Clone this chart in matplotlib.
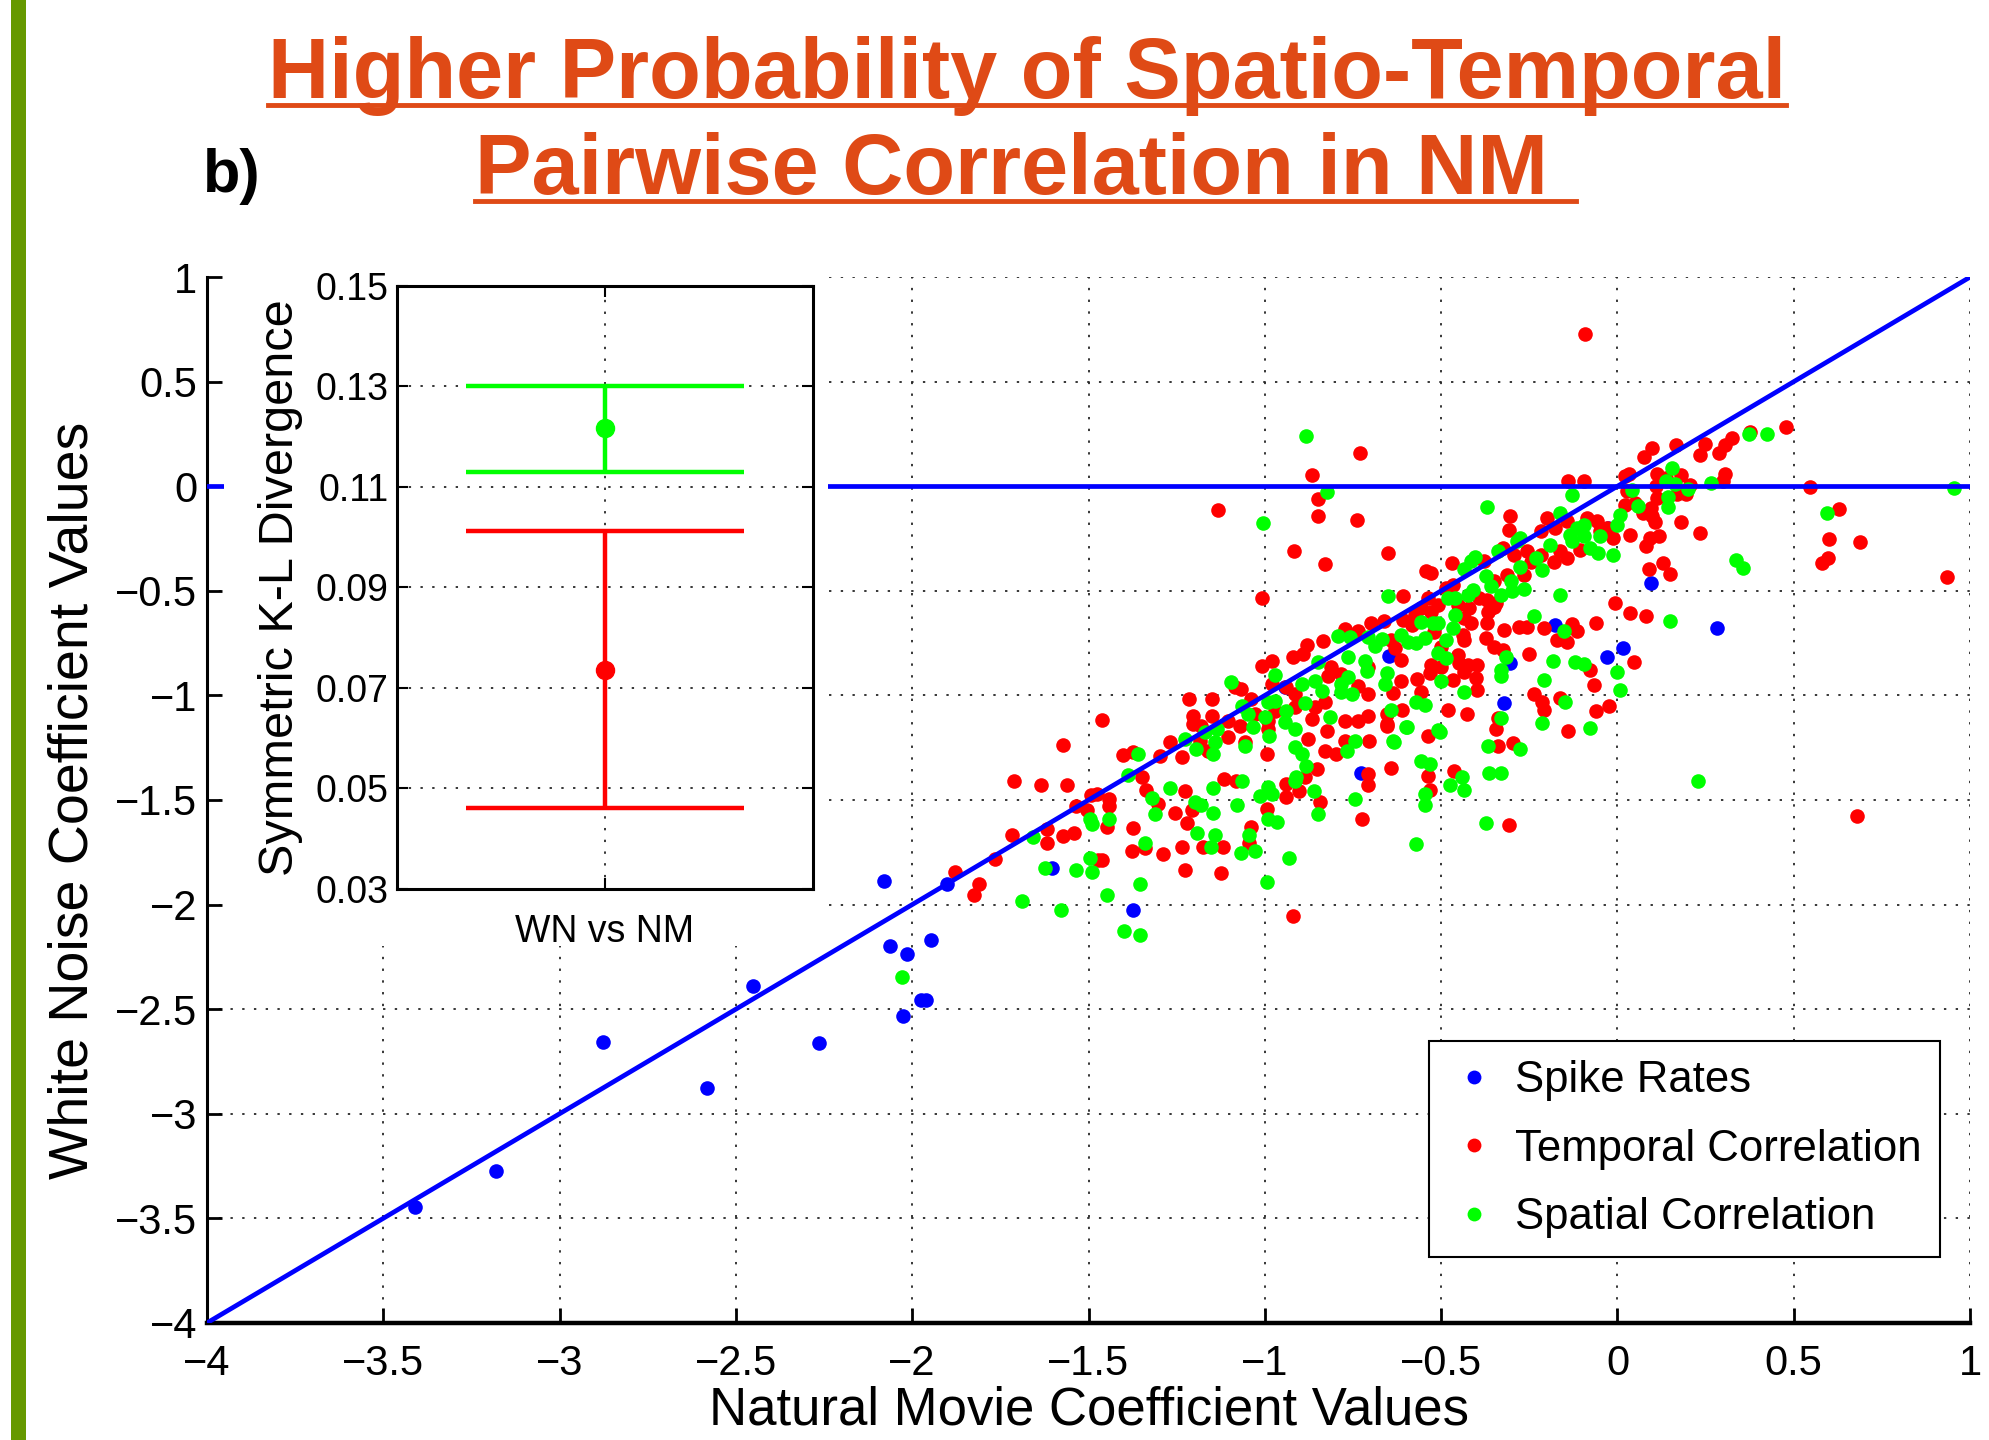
import numpy as np
import matplotlib.pyplot as plt
from matplotlib.patches import Rectangle
from matplotlib.lines import Line2D
from matplotlib.ticker import FuncFormatter

plt.rcParams['font.family'] = ['Liberation Sans', 'DejaVu Sans']

# coefficient pairs: (natural movie, white noise)
spike_rates = [
    (-3.41, -3.445), (-3.18, -3.275), (-2.878, -2.655), (-2.583, -2.876), (-2.451, -2.39),
    (-2.265, -2.66), (-2.079, -1.885), (-2.063, -2.196), (-2.014, -2.234), (-1.947, -2.17),
    (-1.974, -2.457), (-1.962, -2.457), (-2.026, -2.535), (-1.9, -1.9), (-1.604, -1.826),
    (-1.373, -2.025), (-0.727, -1.37), (-0.943, -0.958), (-0.648, -0.812), (-0.323, -1.038),
    (-0.305, -0.847), (-0.176, -0.663), (-0.031, -0.815), (0.016, -0.771), (0.094, -0.465),
    (0.283, -0.678), (-0.026, -0.2),
]

temporal_corr = [
    (-0.091, 0.729), (-0.729, 0.161), (-0.866, 0.054), (-0.848, -0.062), (-1.133, -0.115),
    (-0.848, -0.142), (-0.739, -0.161), (-0.917, -0.312), (-0.828, -0.374), (-0.651, -0.320),
    (-1.009, -0.535),
    (-0.70, -0.656), (-0.662, -0.643), (-0.773, -0.683), (-0.735, -0.694), (-0.836, -0.742),
    (-0.88, -0.758), (-0.92, -0.818), (-0.981, -0.834), (-1.009, -0.861), (-0.891, -0.803),
    (-0.811, -0.866), (-0.783, -0.898), (-0.822, -0.906), (-0.707, -0.866), (-0.735, -0.954),
    (-0.707, -0.994), (-1.068, -0.970), (-0.981, -0.946), (-0.939, -0.962), (-0.915, -0.994),
    (-1.038, -1.018), (-1.085, -0.962), (-1.215, -1.018), (-1.151, -1.018), (-0.858, -1.057),
    (-0.83, -1.033), (-0.915, -1.057), (-0.972, -1.073), (-1.028, -1.089), (-0.867, -1.113),
    (-0.773, -1.121), (-0.735, -1.121), (-0.707, -1.097), (-0.655, -1.089), (-0.653, -1.145),
    (-1.205, -1.097), (-1.151, -1.097), (-1.205, -1.137), (-1.18, -1.145), (-1.104, -1.121),
    (-1.071, -1.145), (-0.991, -1.121), (-0.991, -1.161), (-1.104, -1.201), (-1.184, -1.217),
    (-1.269, -1.225), (-1.057, -1.225), (-0.825, -1.169), (-0.877, -1.209), (-0.773, -1.217),
    (-0.705, -1.217), (-1.373, -1.272), (-1.298, -1.288), (-1.236, -1.296), (-1.16, -1.264),
    (-0.83, -1.264), (-0.797, -1.28), (-0.995, -1.28),
    (-0.139, 0.027), (-0.094, 0.027), (0.021, 0.048), (0.026, -0.024), (0.021, -0.088),
    (0.049, -0.08), (0.073, -0.128), (0.096, -0.104), (-0.031, -0.2), (-0.012, -0.248),
    (0.035, -0.232), (0.092, -0.248), (-0.305, -0.144), (-0.309, -0.208), (-0.2, -0.152),
    (-0.218, -0.216), (-0.176, -0.2), (-0.143, -0.168), (-0.087, -0.152), (-0.059, -0.168),
    (-0.049, -0.216), (-0.106, -0.304), (-0.143, -0.344), (-0.162, -0.312), (-0.181, -0.36),
    (-0.218, -0.327), (-0.256, -0.312), (-0.246, -0.36), (-0.293, -0.327), (-0.265, -0.423),
    (-0.326, -0.296), (-0.378, -0.359), (-0.469, -0.367), (-0.542, -0.404), (-0.528, -0.415),
    (-0.35, -0.455), (-0.312, -0.423), (-0.467, -0.471), (-0.392, -0.535), (-0.369, -0.543),
    (-0.345, -0.559), (-0.359, -0.583), (-0.42, -0.583), (-0.453, -0.567), (-0.486, -0.487),
    (-0.509, -0.567), (-0.538, -0.535), (-0.608, -0.527), (-0.556, -0.583), (-0.528, -0.599),
    (-0.575, -0.615), (-0.584, -0.663), (-0.608, -0.639), (-0.519, -0.695), (-0.434, -0.631),
    (-0.415, -0.655), (-0.439, -0.711), (-0.434, -0.735), (-0.641, -0.735), (-0.631, -0.775),
    (-0.613, -0.831), (-0.5, -0.767), (-0.453, -0.807), (-0.448, -0.847), (-0.528, -0.855),
    (-0.5, -0.863), (-0.533, -0.895), (-0.467, -0.927), (-0.425, -0.855), (-0.397, -0.855),
    (-0.434, -0.887), (-0.401, -0.919), (-0.397, -0.974), (-0.373, -0.727), (-0.35, -0.767),
    (-0.326, -0.783), (-0.322, -0.687), (-0.369, -0.655), (-0.279, -0.671), (-0.256, -0.671),
    (-0.209, -0.679), (-0.129, -0.66), (-0.115, -0.692), (-0.171, -0.735), (-0.143, -0.743),
    (-0.251, -0.804), (-0.079, -0.879), (-0.06, -0.655), (-0.007, -0.559), (0.035, -0.607),
    (0.082, -0.618), (0.047, -0.842), (-0.066, -0.951), (-0.023, -1.049), (-0.06, -1.073),
    (-0.237, -0.995), (-0.214, -1.03), (-0.209, -1.07), (-0.162, -1.014), (-0.34, -1.11),
    (-0.427, -1.091), (-0.481, -1.07), (-0.556, -0.982), (-0.613, -0.931), (-0.568, -0.922),
    (-0.636, -0.99), (-0.611, -1.07), (-0.367, -0.599), (-0.35, -0.575),
    (0.478, 0.283), (0.377, 0.26), (0.326, 0.232), (0.306, 0.197), (0.249, 0.204),
    (0.167, 0.197), (0.235, 0.15), (0.287, 0.158), (0.098, 0.182), (0.074, 0.142),
    (0.033, 0.057), (0.112, 0.06), (0.18, 0.054), (0.306, 0.06), (0.3, 0.025),
    (0.137, 0.041), (0.109, 0.002), (0.206, 0.006), (0.17, -0.038), (0.194, -0.035),
    (0.112, -0.057), (0.547, -0.006), (0.629, -0.11), (0.6, -0.25), (0.687, -0.266),
    (0.596, -0.341), (0.58, -0.368), (0.935, -0.436), (0.235, -0.225), (0.18, -0.17),
    (0.107, -0.17), (0.118, -0.24), (0.08, -0.285), (0.128, -0.365), (0.148, -0.42),
    (0.09, -0.398), (0.098, -0.142),
    (-0.139, -1.169), (-0.295, -1.229), (-0.338, -1.24), (-0.464, -1.362), (-0.538, -1.383),
    (-0.533, -1.451), (-0.641, -1.347), (-0.538, -1.196), (-0.655, -1.138), (-0.308, -1.62),
    (0.68, -1.576), (-0.344, -1.161),
    (-1.462, -1.116), (-1.571, -1.239), (-1.712, -1.407), (-1.634, -1.426), (-1.56, -1.426),
    (-1.402, -1.283), (-1.348, -1.391), (-1.337, -1.454), (-1.304, -1.517), (-1.493, -1.478),
    (-1.476, -1.47), (-1.441, -1.494), (-1.441, -1.53), (-1.536, -1.53), (-1.503, -1.549),
    (-1.448, -1.628), (-1.541, -1.657), (-1.571, -1.672), (-1.618, -1.641), (-1.618, -1.707),
    (-1.716, -1.665), (-1.765, -1.782), (-1.474, -1.786), (-1.462, -1.786), (-1.879, -1.842),
    (-1.811, -1.903), (-1.825, -1.956), (-1.373, -1.636), (-1.378, -1.745), (-1.34, -1.731),
    (-1.29, -1.759), (-1.255, -1.562), (-1.221, -1.612), (-1.206, -1.549), (-1.226, -1.459),
    (-1.235, -1.726), (-1.226, -1.834), (-1.174, -1.726), (-1.118, -1.726), (-1.123, -1.85),
    (-1.039, -1.628), (-1.044, -1.707), (-0.995, -1.541), (-0.939, -1.486), (-0.939, -1.422),
    (-0.902, -1.459), (-0.843, -1.511), (-0.92, -2.054), (-0.887, -1.39), (-0.851, -1.354),
    (-0.724, -1.593), (-0.707, -1.375), (-0.707, -1.426), (-1.115, -1.399), (-1.081, -1.407),
]

spatial_corr = [
    (-0.883, 0.242), (-0.823, -0.027), (-1.005, -0.177), (-0.651, -0.524), (0.954, -0.01),
    (-0.792, -0.715), (-0.759, -0.723), (-0.707, -0.723), (-0.669, -0.731), (-0.688, -0.763),
    (-0.849, -0.842), (-0.764, -0.818), (-0.716, -0.834), (-0.711, -0.882), (-0.972, -0.901),
    (-0.655, -0.893), (-0.764, -0.914), (-0.783, -0.946), (-0.66, -0.946), (-1.096, -0.938),
    (-0.896, -0.946), (-0.858, -0.930), (-0.839, -0.978), (-0.783, -0.986), (-0.754, -0.994),
    (-0.972, -1.025), (-0.991, -1.033), (-1.066, -1.049), (-0.887, -1.038), (-0.939, -1.073),
    (-1.0, -1.105), (-1.047, -1.089), (-0.815, -1.105), (-0.641, -1.07), (-1.17, -1.177),
    (-1.137, -1.161), (-1.033, -1.153), (-0.943, -1.129), (-0.915, -1.161), (-0.988, -1.193),
    (-1.141, -1.225), (-1.227, -1.209), (-1.057, -1.24), (-0.745, -1.217), (-0.636, -1.217),
    (-1.359, -1.28), (-1.194, -1.256), (-1.146, -1.28), (-0.915, -1.248), (-0.896, -1.28),
    (-0.768, -1.264),
    (-0.129, -0.04), (0.04, -0.016), (0.059, -0.096), (0.007, -0.136), (-0.002, -0.184),
    (-0.369, -0.101), (-0.164, -0.128), (-0.115, -0.2), (-0.096, -0.184), (-0.134, -0.232),
    (-0.096, -0.24), (-0.129, -0.264), (-0.049, -0.24), (-0.077, -0.296), (-0.054, -0.32),
    (-0.012, -0.327), (-0.192, -0.28), (-0.214, -0.399), (-0.232, -0.343), (-0.286, -0.264),
    (-0.275, -0.248), (-0.277, -0.388), (-0.34, -0.312), (-0.403, -0.34), (-0.415, -0.359),
    (-0.436, -0.396), (-0.373, -0.431), (-0.359, -0.479), (-0.303, -0.455), (-0.298, -0.503),
    (-0.329, -0.519), (-0.265, -0.49), (-0.462, -0.535), (-0.481, -0.535), (-0.411, -0.495),
    (-0.425, -0.519), (-0.164, -0.522), (-0.556, -0.647), (-0.523, -0.655), (-0.509, -0.655),
    (-0.462, -0.615), (-0.465, -0.679), (-0.486, -0.735), (-0.613, -0.711), (-0.594, -0.743),
    (-0.57, -0.751), (-0.547, -0.727), (-0.509, -0.799), (-0.486, -0.823), (-0.5, -0.931),
    (-0.434, -0.986), (-0.317, -0.815), (-0.331, -0.879), (-0.331, -0.906), (-0.237, -0.618),
    (-0.153, -0.692), (-0.183, -0.835), (-0.12, -0.842), (-0.096, -0.851), (-0.002, -0.887),
    (0.007, -0.974), (-0.207, -0.927), (-0.148, -1.03), (-0.331, -1.11), (-0.547, -1.046),
    (-0.57, -1.03), (-0.598, -1.15), (-0.214, -1.134), (-0.509, -1.166), (-0.077, -1.158),
    (0.372, 0.248), (0.424, 0.248), (0.156, 0.086), (0.265, 0.017), (0.137, 0.025),
    (0.164, 0.013), (0.2, -0.014), (0.142, -0.051), (0.142, -0.099), (0.594, -0.126),
    (0.337, -0.354), (0.356, -0.393), (0.148, -0.643),
    (-0.275, -1.258), (-0.367, -1.24), (-0.363, -1.373), (-0.329, -1.373), (-0.441, -1.391),
    (-0.476, -1.426), (-0.436, -1.451), (-0.547, -1.47), (-0.547, -1.522), (-0.558, -1.312),
    (-0.533, -1.328), (-0.504, -1.177), (-0.635, -1.222), (-0.601, -1.15), (-0.372, -1.612),
    (-0.572, -1.709), (0.227, -1.407),
    (-1.387, -1.38), (-1.32, -1.489), (-1.311, -1.568), (-1.495, -1.593), (-1.491, -1.616),
    (-1.443, -1.593), (-1.657, -1.676), (-1.624, -1.826), (-1.536, -1.834), (-1.491, -1.842),
    (-1.496, -1.778), (-1.688, -1.981), (-1.579, -2.025), (-1.448, -1.956), (-1.354, -1.903),
    (-1.398, -2.125), (-1.354, -2.146), (-1.34, -1.707), (-1.27, -1.443), (-1.191, -1.657),
    (-1.148, -1.56), (-1.142, -1.665), (-1.152, -1.726), (-1.069, -1.752), (-1.078, -1.525),
    (-1.044, -1.665), (-1.029, -1.744), (-0.991, -1.59), (-0.965, -1.604), (-1.015, -1.481),
    (-0.991, -1.438), (-0.979, -1.47), (-0.861, -1.459), (-0.848, -1.568), (-0.932, -1.778),
    (-0.994, -1.892), (-0.915, -1.407), (-0.913, -1.388), (-0.745, -1.497), (-0.882, -1.337),
    (-1.064, -1.407), (-1.197, -1.51), (-1.181, -1.525), (-1.147, -1.443),
    (-2.029, -2.347),
]

series_labels = ['Spike Rates', 'Temporal Correlation', 'Spatial Correlation']
series_colors = ['#0000ff', '#ff0000', '#00ff00']

# symmetric K-L divergence, WN vs NM: (mean, lower, upper)
kl_label = 'WN vs NM'
kl_temporal = (0.0736, 0.0461, 0.1011)
kl_spatial = (0.1216, 0.1130, 0.1300)

main_ticks = np.arange(-4, 1.01, 0.5)
inset_ticks = np.arange(0.03, 0.151, 0.02)

title_lines = ['Higher Probability of Spatio-Temporal', 'Pairwise Correlation in NM']
title_color = '#DF4A16'

fig = plt.figure(figsize=(19.9, 14.4), dpi=100)
fig.add_artist(Rectangle((0.0055, 0), 0.0075, 1, transform=fig.transFigure,
                         facecolor='#669900', edgecolor='none'))

ax = fig.add_axes([0.104, 0.0813, 0.886, 0.7263])
grid_style = dict(color='0.15', linestyle=(0, (1.3, 5.2)), linewidth=1.3)

for pts, lab, col in zip([spike_rates, temporal_corr, spatial_corr], series_labels, series_colors):
    arr = np.array(pts)
    ax.plot(arr[:, 0], arr[:, 1], 'o', color=col, markersize=10.5, markeredgewidth=0,
            label=lab, zorder=2)

# identity line and zero line
ax.plot([main_ticks[0], main_ticks[-1]], [main_ticks[0], main_ticks[-1]], color='#0000ff', lw=3.4, zorder=3)
ax.axhline(0, color='#0000ff', lw=3.4, zorder=3)

ax.set_xlim(-4, 1)
ax.set_ylim(-4, 1)
ax.set_xticks(main_ticks)
ax.set_yticks(main_ticks)
fmt = FuncFormatter(lambda v, _: f'{v:g}'.replace('-', '\u2212'))
ax.xaxis.set_major_formatter(fmt)
ax.yaxis.set_major_formatter(fmt)
ax.grid(True, **grid_style)
ax.set_axisbelow(True)
ax.tick_params(direction='in', length=11, width=2, labelsize=30, color='black')
ax.tick_params(axis='x', pad=15)
ax.tick_params(axis='y', pad=7)
for s in ['top', 'right']:
    ax.spines[s].set_visible(False)
ax.spines['left'].set_linewidth(2.2)
ax.spines['bottom'].set_linewidth(3.2)

ax.set_xlabel('Natural Movie Coefficient Values', fontsize=38)
ax.set_ylabel('White Noise Coefficient Values', fontsize=40)
ax.xaxis.set_label_coords(0.5, -0.06)
ax.yaxis.set_label_coords(-0.061, 0.5)

# blank area behind the inset
ax.add_patch(Rectangle((0.0096, 0.36), 0.3424, 0.66, transform=ax.transAxes,
                       facecolor='white', edgecolor='none', zorder=5, clip_on=False))

leg = ax.legend(loc='lower right', bbox_to_anchor=(0.983, 0.063), fontsize=31.5,
                frameon=True, fancybox=False, edgecolor='black', framealpha=1,
                handlelength=1.24, handletextpad=0.3, borderpad=0.43,
                labelspacing=0.63, borderaxespad=0, markerscale=0.95)
leg.get_frame().set_linewidth(1.5)
leg.set_zorder(6)

# inset: K-L divergence
axi = fig.add_axes([0.1994, 0.3826, 0.2089, 0.4191])
for (mean, lo, hi), col in zip([kl_spatial, kl_temporal], [series_colors[2], series_colors[1]]):
    axi.errorbar([1], [mean], yerr=[[mean - lo], [hi - mean]], fmt='o', color=col,
                 markersize=13, elinewidth=3.2, capsize=100, capthick=3.2)
axi.set_xlim(0, 2)
axi.set_ylim(0.03, 0.15)
axi.set_xticks([1])
axi.set_xticklabels([kl_label], fontsize=30)
axi.set_yticks(inset_ticks)
axi.yaxis.set_major_formatter(FuncFormatter(lambda v, _: f'{v:.2f}'))
axi.grid(True, **grid_style)
axi.set_axisbelow(True)
axi.tick_params(direction='in', length=8, width=1.5, labelsize=27,
                right=True, top=True)
axi.tick_params(axis='x', pad=18)
axi.tick_params(axis='y', pad=6)
for s in axi.spines.values():
    s.set_linewidth(2.2)
axi.set_ylabel('Symmetric K-L Divergence', fontsize=35)
axi.yaxis.set_label_coords(-0.225, 0.5)

# title with underlines
t1 = fig.text(0.516, 0.932, title_lines[0], ha='center', va='baseline', fontsize=61,
              fontweight='bold', color=title_color)
t2 = fig.text(0.5085, 0.865, title_lines[1], ha='center', va='baseline', fontsize=61,
              fontweight='bold', color=title_color)
fig.text(0.102, 0.867, 'b)', ha='left', va='baseline', fontsize=44, fontweight='bold')

fig.canvas.draw()
rend = fig.canvas.get_renderer()
W, H = fig.bbox.width, fig.bbox.height
for t, base, extra in [(t1, 0.932, 0), (t2, 0.865, 28)]:
    bb = t.get_window_extent(rend)
    y = base - 7 / H
    fig.add_artist(Line2D([bb.x0 / W, (bb.x1 + extra) / W], [y, y], transform=fig.transFigure,
                          color=title_color, lw=3.5))

fig.savefig('out.png', dpi=100)
